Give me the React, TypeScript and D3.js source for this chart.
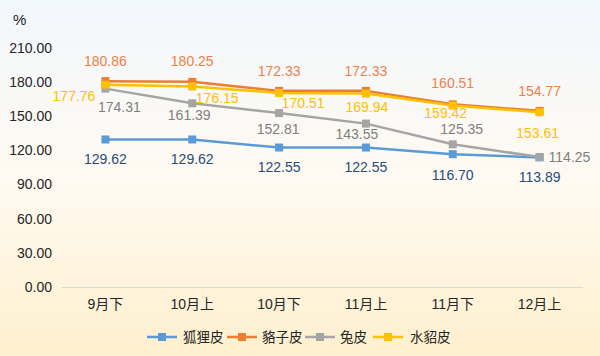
import React from "react";
import * as d3 from "d3";

const categories = ["9月下", "10月上", "10月下", "11月上", "11月下", "12月上"];
const foxValues = [129.62, 129.62, 122.55, 122.55, 116.7, 113.89];
const raccoonValues = [180.86, 180.25, 172.33, 172.33, 160.51, 154.77];
const rabbitValues = [174.31, 161.39, 152.81, 143.55, 125.35, 114.25];
const minkValues = [177.76, 176.15, 170.51, 169.94, 159.42, 153.61];
const seriesNames = ["狐狸皮", "貉子皮", "兔皮", "水貂皮"];
const yTicks = [0, 30, 60, 90, 120, 150, 180, 210];

// label offsets (style, not data)
const labelOffsets: [number, number, string][][] = [
  [[0, 20, "middle"], [0, 20, "middle"], [0, 20, "middle"], [0, 20, "middle"], [0, 21, "middle"], [0, 20, "middle"]],
  [[0, -20, "middle"], [0, -21, "middle"], [0, -20, "middle"], [0, -20, "middle"], [0, -21, "middle"], [0, -20, "middle"]],
  [[14, 18, "middle"], [-3, 12, "middle"], [-1, 16, "middle"], [-9, 10, "middle"], [9, -15, "middle"], [9, 0, "start"]],
  [[-10, 11, "end"], [25, 12, "middle"], [24, 10, "middle"], [1, 14, "middle"], [-7, 8, "middle"], [-2, 21, "middle"]],
];

const colors = ["#5B9BD5", "#ED7D31", "#A5A5A5", "#FFC000"];
const labelColors = ["#264D78", "#F0804A", "#7F7F7F", "#FFC000"];
const font = "'Liberation Sans', 'Noto Sans CJK SC', sans-serif";
const fs = 14;

export default function App() {
  const W = 600, H = 356;
  const x0 = 62, x1 = 583, yTop = 48, yBot = 287;
  const x = d3.scaleBand().domain(categories).range([x0, x1]);
  const y = d3.scaleLinear().domain([0, 210]).range([yBot, yTop]);
  const allSeries = [foxValues, raccoonValues, rabbitValues, minkValues];
  const cx = (c: string) => (x(c) as number) + x.bandwidth() / 2;
  const line = d3.line<number>().x((_, i) => cx(categories[i])).y((v) => y(v));

  const legendItems = [
    { lx: 147, tx: 183 },
    { lx: 227, tx: 262 },
    { lx: 305, tx: 340 },
    { lx: 373, tx: 410 },
  ];

  return (
    <svg width={W} height={H} style={{ position: "absolute", left: 0, top: 0 }} fontFamily={font}>
      <defs>
        <linearGradient id="bg" x1="0" y1="0" x2="0" y2="1">
          <stop offset="0%" stopColor="#F2F7FC" />
          <stop offset="50%" stopColor="#FFFAF2" />
          <stop offset="100%" stopColor="#FEF0CE" />
        </linearGradient>
      </defs>
      <rect x={0} y={0} width={W} height={H} fill="url(#bg)" />
      <text x={13} y={25} fontSize={15} fill="#222">%</text>
      {yTicks.map((t) => (
        <text key={t} x={52} y={y(t)} dy="0.35em" textAnchor="end" fontSize={fs} fill="#262626">
          {t.toFixed(2)}
        </text>
      ))}
      <line x1={x0} x2={x1} y1={yBot + 0.5} y2={yBot + 0.5} stroke="#D9D9D9" strokeWidth={1} />
      {categories.map((c) => (
        <text key={c} x={cx(c)} y={304} dy="0.35em" textAnchor="middle" fontSize={fs} fill="#262626">
          {c}
        </text>
      ))}
      {allSeries.map((vals, si) => (
        <g key={si}>
          <path d={line(vals) || ""} fill="none" stroke={colors[si]} strokeWidth={2.5} strokeLinejoin="round" />
          {vals.map((v, i) => (
            <rect key={i} x={cx(categories[i]) - 4} y={y(v) - 4} width={8} height={8} fill={colors[si]} />
          ))}
        </g>
      ))}
      {allSeries.map((vals, si) => (
        <g key={"l" + si}>
          {vals.map((v, i) => {
            const [dx, dy, anchor] = labelOffsets[si][i];
            return (
              <text key={i} x={cx(categories[i]) + dx} y={y(v) + dy} dy="0.35em" textAnchor={anchor as any}
                fontSize={fs} fill={labelColors[si]}>
                {v.toFixed(2)}
              </text>
            );
          })}
        </g>
      ))}
      {seriesNames.map((n, i) => (
        <g key={n}>
          <line x1={legendItems[i].lx} x2={legendItems[i].lx + 30} y1={337} y2={337} stroke={colors[i]} strokeWidth={2.5} />
          <rect x={legendItems[i].lx + 11} y={333} width={8} height={8} fill={colors[i]} />
          <text x={legendItems[i].tx} y={337} dy="0.35em" fontSize={13.5} fill="#262626">{n}</text>
        </g>
      ))}
    </svg>
  );
}
